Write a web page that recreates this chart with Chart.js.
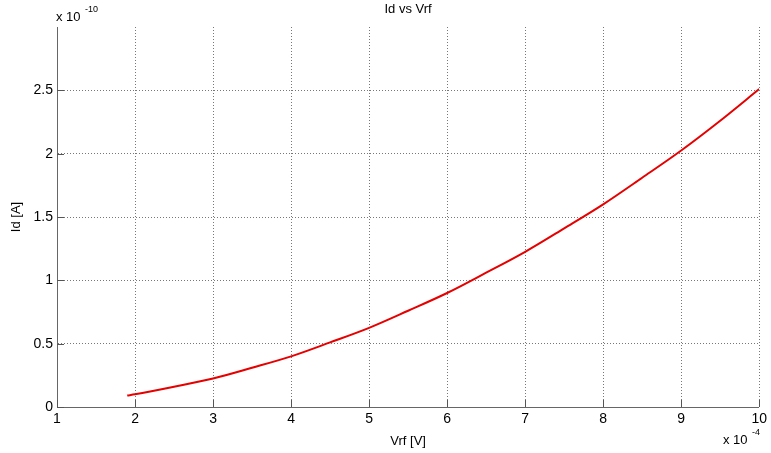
<!DOCTYPE html>
<html>
<head>
<meta charset="utf-8">
<script src="https://cdn.jsdelivr.net/npm/chart.js@4"></script>
<style>
  html, body { margin: 0; padding: 0; background: #fff; }
  #wrap { width: 771px; height: 453px; }
</style>
</head>
<body>
<div id="wrap"><canvas id="idChart" width="771" height="453"></canvas></div>
<script>
// Vrf in units of 1e-4 V, Id in units of 1e-10 A
const vrf = [1.9, 2, 2.5, 3, 3.5, 4, 4.5, 5, 5.5, 6, 6.5, 7, 7.5, 8, 8.5, 9, 9.5, 10];
const idVals = [0.09, 0.10, 0.16, 0.225, 0.31, 0.40, 0.51, 0.625, 0.76, 0.90, 1.06, 1.225, 1.41, 1.60, 1.81, 2.025, 2.26, 2.51];
const xTicks = [1, 2, 3, 4, 5, 6, 7, 8, 9, 10];
const yTicks = [0, 0.5, 1, 1.5, 2, 2.5];

const FONT = 'Liberation Sans, Arial, sans-serif';

// matlab style inward ticks, title and the exponent labels
const matlabBits = {
    id: 'matlabBits',
    afterDraw(chart) {
        const ctx = chart.ctx;
        const xs = chart.scales.x, ys = chart.scales.y;
        const a = chart.chartArea;
        ctx.save();
        ctx.strokeStyle = '#555';
        ctx.lineWidth = 1;
        ctx.beginPath();
        xTicks.forEach(v => {
            const px = Math.round(xs.getPixelForValue(v)) + 0.5;
            ctx.moveTo(px, a.bottom);
            ctx.lineTo(px, a.bottom - 7);
        });
        yTicks.forEach(v => {
            const py = Math.round(ys.getPixelForValue(v)) + 0.5;
            ctx.moveTo(a.left, py);
            ctx.lineTo(a.left + 7, py);
        });
        ctx.stroke();

        ctx.fillStyle = '#000';
        ctx.textBaseline = 'alphabetic';
        // title
        ctx.font = '13px ' + FONT;
        ctx.textAlign = 'center';
        ctx.fillText('Id vs Vrf', (a.left + a.right) / 2, 13);
        // y exponent
        ctx.textAlign = 'left';
        ctx.font = '13px ' + FONT;
        ctx.fillText('x 10', 56, 21);
        ctx.font = '9px ' + FONT;
        ctx.fillText('-10', 85, 12);
        // x exponent
        ctx.font = '13px ' + FONT;
        ctx.fillText('x 10', 723, 444);
        ctx.font = '9px ' + FONT;
        ctx.fillText('-4', 752, 435);
        ctx.restore();
    }
};

new Chart('idChart', {
    type: 'line',
    data: {
        datasets: [{
            label: 'Id',
            data: vrf.map((v, i) => ({ x: v, y: idVals[i] })),
            borderColor: '#e60000',
            borderWidth: 2,
            pointRadius: 0,
            cubicInterpolationMode: 'monotone',
            fill: false
        }]
    },
    options: {
        responsive: false,
        animation: false,
        layout: { padding: { top: 27, right: 9, left: 0, bottom: 0 } },
        plugins: {
            legend: { display: false },
            tooltip: { enabled: false },
            title: { display: false }
        },
        scales: {
            x: {
                type: 'linear',
                min: 1,
                max: 10,
                afterBuildTicks: s => { s.ticks = xTicks.map(v => ({ value: v })); },
                afterFit: s => { s.height = 46; },
                grid: {
                    color: '#777',
                    lineWidth: c => (c.tick && c.tick.value === 1) ? 0 : 1,
                    drawTicks: false
                },
                border: { display: true, color: '#666', width: 1, dash: [1, 2] },
                ticks: {
                    color: '#000', font: { family: FONT, size: 14 }, padding: 4, maxRotation: 0,
                    callback: v => String(v)
                },
                title: { display: true, text: 'Vrf [V]', color: '#000', font: { family: FONT, size: 13 }, padding: { top: 1 } }
            },
            y: {
                type: 'linear',
                min: 0,
                max: 3,
                afterBuildTicks: s => { s.ticks = yTicks.map(v => ({ value: v })); },
                afterFit: s => { s.width = 57; },
                grid: {
                    color: '#777',
                    lineWidth: c => (c.tick && c.tick.value === 0) ? 0 : 1,
                    drawTicks: false
                },
                border: { display: true, color: '#666', width: 1, dash: [1, 2] },
                ticks: {
                    color: '#000', font: { family: FONT, size: 14 }, padding: 4,
                    callback: v => String(v)
                },
                title: { display: true, text: 'Id [A]', color: '#000', font: { family: FONT, size: 13 }, padding: { top: 9, bottom: 4 } }
            }
        }
    },
    plugins: [matlabBits]
});
</script>
</body>
</html>
